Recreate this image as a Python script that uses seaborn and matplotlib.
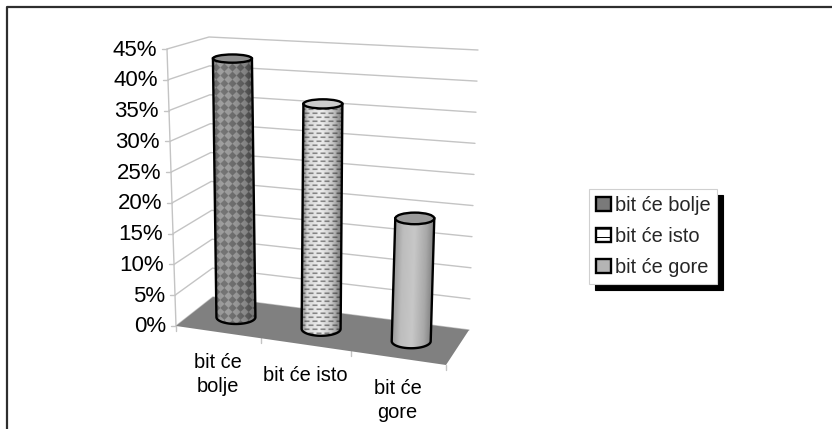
import numpy as np
import pandas as pd
import matplotlib
matplotlib.use("Agg")
import matplotlib.pyplot as plt
from matplotlib.lines import Line2D
from matplotlib.patches import Ellipse, PathPatch, Polygon, Rectangle, Patch
from matplotlib.path import Path
import seaborn as sns

# ---- data ----
categories = ["bit će bolje", "bit će isto", "bit će gore"]
axis_labels = ["bit će\nbolje", "bit će isto", "bit će\ngore"]
values = [42.8, 36.3, 19.3]
value_ticks = [0, 5, 10, 15, 20, 25, 30, 35, 40, 45]
VMAX = 45

sns.set_theme(style="white")
plt.rcParams["font.family"] = ["Liberation Sans", "DejaVu Sans"]
plt.rcParams["hatch.linewidth"] = 0.7
FS = 14.4
FS_Y = 16

fig = plt.figure(figsize=(8.32, 4.29), dpi=100, facecolor="white")
ax = fig.add_axes([0, 0, 1, 1])

# ---- projection of the 3-D box into the picture ----
FL, FR, BL, BR = map(np.array, [(176, 326), (446, 365), (213, 297), (469, 330)])
FLt, FRt, BLt, BRt = map(np.array, [(167, 49), (460, 65), (209, 37), (478, 50)])
SLOTS = np.array([0, 0.315, 0.648, 1.0])   # perspective of category slots


def proj(u, d, v):
    floor = (1 - d) * ((1 - u) * FL + u * FR) + d * ((1 - u) * BL + u * BR)
    top = (1 - d) * ((1 - u) * FLt + u * FRt) + d * ((1 - u) * BLt + u * BRt)
    return floor + (top - floor) * v / VMAX


# ---- walls: grid lines ----
rows = []
for tick in value_ticks:
    for k, p in enumerate([proj(0, 0, tick), proj(0, 1, tick), proj(1, 1, tick)]):
        rows.append(dict(x=p[0], y=p[1], line=f"g{tick}", order=k))
for k, tick in enumerate([0, VMAX]):
    p = proj(0, 0, tick)
    rows.append(dict(x=p[0], y=p[1], line="edge", order=k))
for tick in value_ticks:
    p = proj(0, 0, tick)
    rows.append(dict(x=p[0], y=p[1], line=f"t{tick}", order=0))
    rows.append(dict(x=p[0] - 5, y=p[1], line=f"t{tick}", order=1))
for s in SLOTS:
    p = proj(s, 0, 0)
    rows.append(dict(x=p[0], y=p[1], line=f"c{s}", order=0))
    rows.append(dict(x=p[0], y=p[1] + 5, line=f"c{s}", order=1))
grid = pd.DataFrame(rows)
sns.lineplot(data=grid, x="x", y="y", units="line", estimator=None, sort=False,
             color="#c4c4c4", linewidth=1.0, ax=ax, zorder=1, legend=False)

# ---- floor ----
ax.add_patch(Polygon([FL, FR, BR, BL], closed=True, fc="#808080", ec="none", zorder=2))

# ---- bars through seaborn, then placed into the projection ----
palette = ["#6e6e6e", "#d8d8d8", "#a8a8a8"]
sns.barplot(x=list(range(3)), y=values, hue=categories, palette=palette, dodge=False,
            native_scale=True, legend=False, ax=ax, zorder=3, errorbar=None, saturation=1)
bars = [b for b in ax.patches if isinstance(b, Rectangle) and b.get_height() > 0]


def texture(kind, X, Y, t):
    if kind == 0:
        base = np.interp(t, [-1, -.6, 0, .6, 1], [.40, .46, .42, .34, .26])
        mask = (np.floor((X + Y) / 8) + np.floor((X - Y) / 8)) % 2 == 0
        return base + 0.17 * mask
    if kind == 1:
        base = np.interp(t, [-1, -.75, -.1, .5, 1], [.55, .85, .93, .78, .45])
        row = np.floor(Y / 4)
        mask = ((Y % 4) < 1.4) & (((X + 4 * row) % 8) < 5)
        return np.where(mask, base * 0.55, base)
    return np.interp(t, [-1, -.6, 0, .6, 1], [.60, .74, .78, .66, .50])


RX = 19.5
LW = 1.7
top_fill = ["#8e8e8e", "#cdcdcd", "#9a9a9a"]
for i, value in enumerate(values):
    uc = (SLOTS[i] + SLOTS[i + 1]) / 2
    xb, yb = proj(uc, 0.5, 0)
    xt, yt = proj(uc, 0.5, value)
    ryb = 3.5 + 0.0105 * yb
    ryt = 3.5 + 0.0105 * yt
    th = np.linspace(np.pi, 0, 40)
    low = np.column_stack([xb + RX * np.cos(th), yb + ryb * np.sin(th)])
    verts = np.vstack([[xt - RX, yt], low, [xt + RX, yt], [xt - RX, yt]])
    path = Path(verts, closed=True)

    bar = bars[i]
    bar.set_x(max(xt, xb) - RX + 1)
    bar.set_width(2 * RX - abs(xt - xb) - 2)
    bar.set_y(yt)
    bar.set_height(yb - yt)

    l, r = min(xt, xb) - RX - 1, max(xt, xb) + RX + 1
    t, b = yt - 1, yb + ryb + 1
    xs = np.arange(l, r, 0.5)
    ys = np.arange(t, b, 0.5)
    X, Y = np.meshgrid(xs, ys)
    centre = xt + (xb - xt) * (Y - yt) / (yb - yt)
    tex = texture(i, X, Y, (X - centre) / RX)
    im = ax.imshow(tex, extent=[l, r, b, t], cmap="gray", vmin=0, vmax=1,
                   aspect="auto", zorder=3.5, interpolation="antialiased")
    clip = PathPatch(path, transform=ax.transData)
    im.set_clip_path(clip)
    ax.add_patch(PathPatch(path, fc="none", ec="black", lw=LW, zorder=4))
    ax.add_patch(Ellipse((xt, yt), 2 * RX, 2 * ryt, fc=top_fill[i], ec="black", lw=LW, zorder=5))

# ---- axis labels ----
for tick in value_ticks:
    p = proj(0, 0, tick)
    ax.text(p[0] - 10, p[1] + 1, f"{tick}%", ha="right", va="center", fontsize=FS_Y, color="black")
for i, lab in enumerate(axis_labels):
    uc = (SLOTS[i] + SLOTS[i + 1]) / 2
    p = proj(uc, 0, 0)
    ax.text(p[0] - 1, p[1] + 21, lab, ha="center", va="top", fontsize=FS, color="black", linespacing=1.32)

# ---- legend ----
handles = [Patch(fc="#7a7a7a", ec="black", lw=LW),
           Patch(fc="white", ec="black", lw=LW, hatch="--"),
           Patch(fc="#b4b4b4", ec="black", lw=LW)]
leg = ax.legend(handles, categories, loc="upper left", bbox_to_anchor=(589, 189),
                bbox_transform=ax.transData, prop={"size": FS}, fancybox=False, frameon=True,
                edgecolor="#d0d0d0", facecolor="white", framealpha=1, borderaxespad=0,
                borderpad=0.36, handlelength=0.72, handleheight=0.72, handletextpad=0.2,
                labelspacing=0.6, shadow={"color": "black", "alpha": 1, "ox": 4, "oy": -4})
leg.get_frame().set_linewidth(0.8)
leg.set_zorder(6)

# ---- frame: top and left edges only ----
ax.add_line(Line2D([832, 7, 7], [7, 7, 429], color="#2e2e2e", lw=1.6, zorder=0.5))

ax.set_xlim(0, 832)
ax.set_ylim(429, 0)
ax.set_axis_off()
fig.savefig("out.png", dpi=100, facecolor="white")
